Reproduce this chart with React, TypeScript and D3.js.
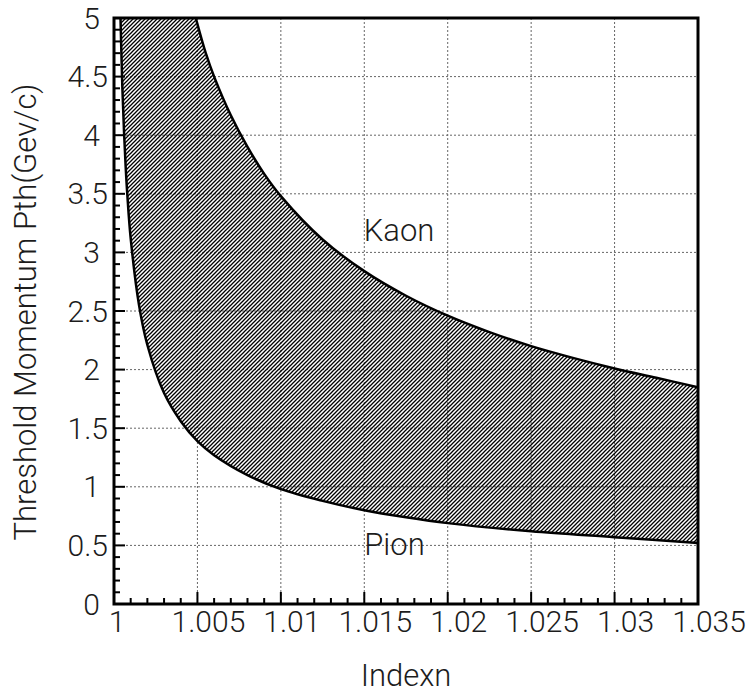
import React from "react";
import * as d3 from "d3";

// Refractive index n (x) and threshold momentum (GeV/c)
const pionN = [1.00039, 1.0005, 1.0006, 1.0007, 1.0008, 1.001, 1.0015, 1.002, 1.003, 1.004, 1.005, 1.006, 1.008, 1.01, 1.0125, 1.015, 1.0175, 1.02, 1.025, 1.03, 1.035];
const pionP = [5.0, 4.41, 4.03, 3.73, 3.49, 3.12, 2.55, 2.21, 1.80, 1.56, 1.39, 1.27, 1.10, 0.98, 0.88, 0.80, 0.74, 0.69, 0.62, 0.57, 0.52];

const kaonN = [1.0049, 1.0055, 1.006, 1.007, 1.008, 1.009, 1.01, 1.0125, 1.015, 1.0175, 1.02, 1.0225, 1.025, 1.0275, 1.03, 1.0325, 1.035];
const kaonP = [5.0, 4.70, 4.50, 4.17, 3.90, 3.67, 3.48, 3.11, 2.84, 2.63, 2.46, 2.32, 2.20, 2.10, 2.01, 1.93, 1.85];

const xTickValues = [1, 1.005, 1.01, 1.015, 1.02, 1.025, 1.03, 1.035];
const xTickLabels = ["1", "1.005", "1.01", "1.015", "1.02", "1.025", "1.03", "1.035"];
const yTickValues = [0, 0.5, 1, 1.5, 2, 2.5, 3, 3.5, 4, 4.5, 5];
const yTickLabels = ["0", "0.5", "1", "1.5", "2", "2.5", "3", "3.5", "4", "4.5", "5"];

const curveLabels = ["Kaon", "Pion"];
const curveLabelPos = [[1.01497, 3.1], [1.0150, 0.42]];

const xTitle = "Indexn";
const yTitle = "Threshold Momentum Pth(Gev/c)";

const W = 750;
const H = 696;
const L = 114, R = 698, T = 18, B = 604;
const FONT = "Roboto, 'Liberation Sans', sans-serif";
const TEXT = "#1c1c1c";

export default function App() {
  const x = d3.scaleLinear().domain([1, 1.035]).range([L, R]);
  const y = d3.scaleLinear().domain([0, 5]).range([B, T]);

  const kaon: [number, number][] = kaonN.map((n, i) => [n, kaonP[i]]);
  const pion: [number, number][] = pionN.map((n, i) => [n, pionP[i]]);

  const line = d3
    .line<[number, number]>()
    .x((d) => x(d[0]))
    .y((d) => y(d[1]))
    .curve(d3.curveCatmullRom.alpha(0.5));

  const kaonPath = line(kaon) || "";
  const pionPath = line(pion) || "";
  const pionRev = line(pion.slice().reverse()) || "";
  const areaPath = kaonPath + "L" + pionRev.slice(1) + "Z";

  const xMinor = d3.range(0, 36).map((i) => 1 + i * 0.001);
  const yMinor = d3.range(0, 51).map((i) => i * 0.1);

  return (
    <svg
      width={W}
      height={H}
      style={{ position: "absolute", left: 0, top: 0, background: "#fff" }}
      fontFamily={FONT}
      fontWeight={300}
    >
      <defs>
        <pattern id="hatch" patternUnits="userSpaceOnUse" width={4} height={4}>
          <path d="M-1,1 l2,-2 M0,4 l4,-4 M3,5 l2,-2" stroke="#000" strokeWidth={1.3} />
        </pattern>
        <clipPath id="plotClip">
          <rect x={L} y={T} width={R - L} height={B - T} />
        </clipPath>
      </defs>

      {/* grid */}
      <g stroke="#666" strokeWidth={1} strokeDasharray="2,2">
        {xTickValues.slice(1, -1).map((v) => (
          <line key={"gx" + v} x1={x(v)} x2={x(v)} y1={T} y2={B} />
        ))}
        {yTickValues.slice(1, -1).map((v) => (
          <line key={"gy" + v} x1={L} x2={R} y1={y(v)} y2={y(v)} />
        ))}
      </g>

      <g clipPath="url(#plotClip)">
        <path d={areaPath} fill="url(#hatch)" stroke="none" />
        <path d={kaonPath} fill="none" stroke="#000" strokeWidth={2.5} />
        <path d={pionPath} fill="none" stroke="#000" strokeWidth={2.5} />
      </g>

      {/* ticks */}
      <g stroke="#000" strokeWidth={2}>
        {xMinor.map((v, i) => (
          <line key={"xt" + i} x1={x(v)} x2={x(v)} y1={B} y2={B - (i % 5 === 0 ? 12 : 6)} />
        ))}
        {yMinor.map((v, i) => (
          <line key={"yt" + i} x1={L} x2={L + (i % 5 === 0 ? 11 : 6)} y1={y(v)} y2={y(v)} />
        ))}
      </g>

      {/* frame */}
      <rect x={L} y={T} width={R - L} height={B - T} fill="none" stroke="#000" strokeWidth={3} />

      {/* tick labels */}
      <g fill={TEXT} fontSize={30}>
        {xTickValues.map((v, i) => (
          <text key={"xl" + v} x={x(v) + (i === 0 ? 3 : 11)} y={632} textAnchor="middle">
            {xTickLabels[i]}
          </text>
        ))}
        {yTickValues.map((v, i) => (
          <text
            key={"yl" + v}
            x={yTickLabels[i].includes(".") ? 108 : 100}
            y={y(v)}
            dy="0.35em"
            textAnchor="end"
          >
            {yTickLabels[i]}
          </text>
        ))}
      </g>

      {/* curve labels */}
      <g fill={TEXT} fontSize={31}>
        {curveLabels.map((t, i) => (
          <text key={t} x={x(curveLabelPos[i][0])} y={y(curveLabelPos[i][1])}>
            {t}
          </text>
        ))}
      </g>

      {/* axis titles */}
      <text x={406} y={686} textAnchor="middle" fill={TEXT} fontSize={31}>
        {xTitle}
      </text>
      <text
        transform={`translate(36, 312) rotate(-90)`}
        textAnchor="middle"
        fill={TEXT}
        fontSize={31}
      >
        {yTitle}
      </text>
    </svg>
  );
}
